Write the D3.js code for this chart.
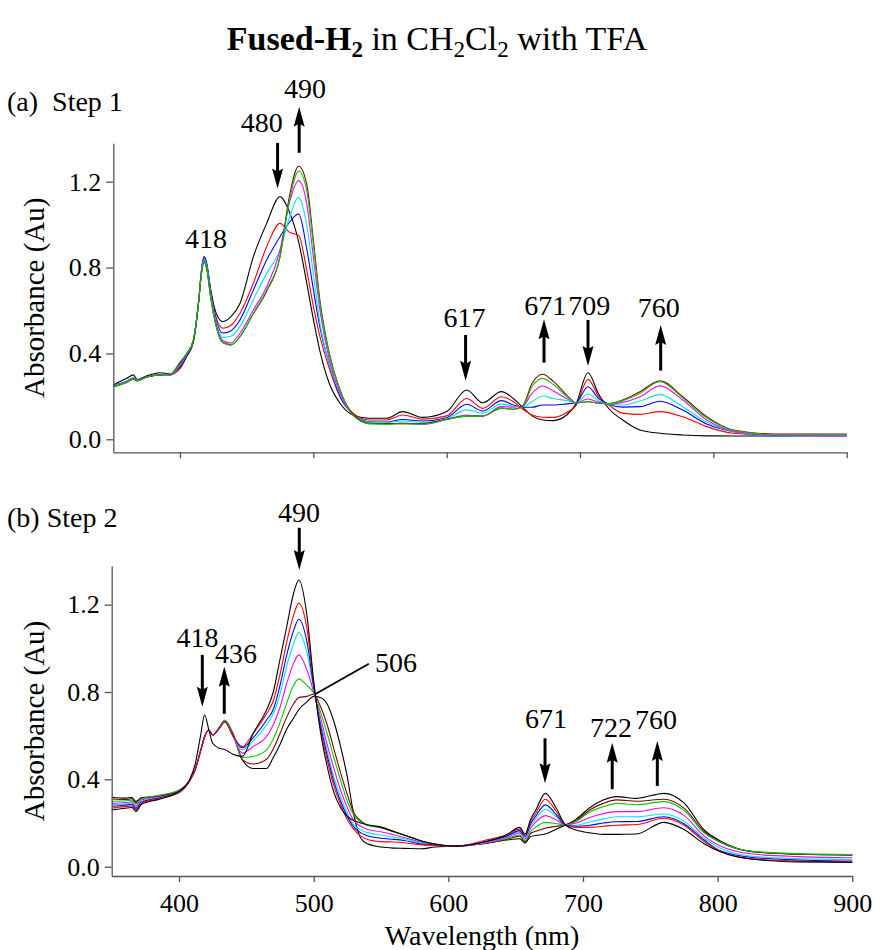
<!DOCTYPE html>
<html><head><meta charset="utf-8">
<script src="https://cdn.jsdelivr.net/npm/d3@7"></script>
<style>
body{margin:0;background:#fff;}
svg{display:block;}
text{font-family:"Liberation Serif","Times New Roman",serif;fill:#000;}
</style></head><body>
<svg id="chart" width="874" height="950"></svg>
<script>
// ---------- Step 1 spectra (wavelength grid, nm) ----------
const wlStep1 = [350,360,365,368,375, 385,393,400,405,410, 414,416,418,420,423, 427,432,438,445,455,
  465,475,482,489,495, 500,505,512,520,530, 542,555,567,582,600, 615,627,641,650,657,
  664,672,680,690,697, 706,714,722,732,745, 760,777,795,815,845, 900];
const s1Black = [0.253,0.284,0.300,0.278,0.295, 0.310,0.305,0.330,0.385,0.450, 0.640,0.780,0.850,0.820,0.700, 0.590,0.548,0.570,0.633,0.850,
  1.006,1.130,1.060,0.920,0.730, 0.560,0.410,0.260,0.168,0.112, 0.098,0.098,0.129,0.102,0.129, 0.230,0.170,0.222,0.190,0.149,
  0.109,0.090,0.087,0.113,0.165, 0.310,0.210,0.140,0.090,0.043, 0.028,0.020,0.016,0.015,0.016, 0.020];
const s1Red = [0.250,0.270,0.285,0.276,0.290, 0.300,0.300,0.335,0.390,0.455, 0.640,0.770,0.835,0.810,0.690, 0.570,0.517,0.530,0.587,0.727,
  0.897,1.006,0.965,0.950,0.790, 0.620,0.478,0.330,0.198,0.121, 0.090,0.090,0.113,0.094,0.109, 0.190,0.144,0.198,0.175,0.140,
  0.113,0.103,0.102,0.125,0.157, 0.279,0.200,0.158,0.122,0.116, 0.129,0.105,0.059,0.028,0.020, 0.020];
const s1Blue = [0.250,0.270,0.285,0.276,0.290, 0.300,0.300,0.340,0.390,0.460, 0.645,0.780,0.850,0.820,0.690, 0.560,0.495,0.505,0.556,0.695,
  0.835,0.944,1.010,1.050,0.890, 0.700,0.520,0.350,0.200,0.115, 0.082,0.080,0.092,0.085,0.100, 0.163,0.132,0.180,0.160,0.150,
  0.149,0.160,0.160,0.165,0.170, 0.245,0.190,0.162,0.150,0.152, 0.177,0.136,0.071,0.035,0.016, 0.015];
const s1Cyan = [0.248,0.270,0.283,0.275,0.290, 0.300,0.300,0.345,0.395,0.460, 0.645,0.775,0.840,0.810,0.680, 0.550,0.475,0.480,0.525,0.650,
  0.773,0.882,1.030,1.127,1.000, 0.770,0.540,0.350,0.210,0.115, 0.080,0.078,0.085,0.078,0.095, 0.137,0.122,0.164,0.155,0.152,
  0.175,0.202,0.190,0.180,0.170, 0.211,0.180,0.163,0.160,0.178, 0.208,0.152,0.080,0.035,0.016, 0.016];
const s1Magenta = [0.245,0.268,0.282,0.274,0.290, 0.300,0.302,0.350,0.398,0.460, 0.645,0.770,0.835,0.800,0.670, 0.540,0.460,0.448,0.494,0.602,
  0.711,0.880,1.100,1.205,1.100, 0.850,0.600,0.370,0.215,0.110, 0.075,0.072,0.074,0.070,0.092, 0.113,0.108,0.152,0.150,0.155,
  0.214,0.248,0.225,0.190,0.170, 0.188,0.172,0.165,0.172,0.198, 0.249,0.183,0.090,0.038,0.018, 0.015];
const s1Green = [0.245,0.265,0.280,0.272,0.290, 0.300,0.305,0.360,0.400,0.460, 0.640,0.765,0.830,0.800,0.665, 0.530,0.450,0.439,0.478,0.587,
  0.695,0.850,1.110,1.250,1.160, 0.910,0.630,0.395,0.230,0.110, 0.072,0.070,0.072,0.071,0.092, 0.108,0.108,0.145,0.140,0.152,
  0.245,0.284,0.255,0.200,0.170, 0.175,0.168,0.166,0.180,0.215, 0.268,0.193,0.100,0.042,0.022, 0.022];
const s1Brown = [0.245,0.265,0.280,0.272,0.290, 0.300,0.305,0.355,0.400,0.460, 0.640,0.765,0.825,0.795,0.660, 0.530,0.452,0.440,0.478,0.585,
  0.690,0.850,1.130,1.272,1.190, 0.930,0.645,0.400,0.230,0.115, 0.075,0.073,0.074,0.073,0.093, 0.108,0.108,0.145,0.140,0.155,
  0.260,0.303,0.270,0.206,0.170, 0.175,0.168,0.166,0.183,0.222, 0.273,0.198,0.105,0.043,0.025, 0.025];

// ---------- Step 2 spectra ----------
const wlStep2 = [350,360,365,368,372, 386,400,408,412,416, 419,422,425,430,434, 440,447,455,465,470,
  475,480,485,489,495, 500,505,510,515,520, 525,530,535,540,550, 560,567,580,590,606,
  628,643,653,657,661, 665,672,680,687,695, 705,715,725,740,760, 775,790,802,826,860, 900];
const s2BlackStart = [0.260,0.268,0.271,0.253,0.285, 0.310,0.345,0.400,0.470,0.600, 0.695,0.630,0.565,0.542,0.537, 0.515,0.505,0.610,0.718,0.800,
  0.950,1.100,1.250,1.313,1.150, 0.850,0.620,0.460,0.340,0.270, 0.230,0.210,0.200,0.192,0.180, 0.160,0.145,0.118,0.104,0.094,
  0.115,0.145,0.180,0.150,0.215, 0.260,0.336,0.270,0.191,0.168, 0.155,0.148,0.148,0.150,0.203, 0.170,0.105,0.068,0.034,0.022, 0.020];
const s2Red = [0.268,0.275,0.278,0.260,0.290, 0.313,0.342,0.395,0.445,0.530, 0.595,0.626,0.603,0.635,0.664, 0.600,0.550,0.610,0.700,0.760,
  0.880,1.030,1.150,1.207,1.090, 0.840,0.635,0.490,0.370,0.285, 0.215,0.170,0.140,0.125,0.115, 0.113,0.110,0.100,0.098,0.094,
  0.122,0.145,0.172,0.145,0.205, 0.245,0.309,0.255,0.191,0.180, 0.180,0.185,0.190,0.193,0.222, 0.190,0.115,0.070,0.036,0.026, 0.023];
const s2Blue = [0.276,0.282,0.285,0.267,0.295, 0.316,0.342,0.395,0.445,0.530, 0.595,0.626,0.603,0.635,0.664, 0.600,0.545,0.590,0.672,0.720,
  0.830,0.970,1.080,1.133,1.030, 0.825,0.650,0.510,0.390,0.300, 0.230,0.180,0.155,0.142,0.130, 0.125,0.120,0.104,0.100,0.094,
  0.115,0.140,0.165,0.138,0.195, 0.232,0.283,0.240,0.191,0.185, 0.190,0.200,0.206,0.207,0.229, 0.197,0.122,0.073,0.042,0.031, 0.026];
const s2Cyan = [0.283,0.288,0.291,0.273,0.300, 0.318,0.340,0.395,0.445,0.530, 0.595,0.626,0.603,0.635,0.664, 0.600,0.535,0.575,0.649,0.700,
  0.790,0.920,1.020,1.072,0.980, 0.815,0.665,0.530,0.410,0.320, 0.245,0.190,0.168,0.156,0.145, 0.135,0.128,0.108,0.100,0.094,
  0.112,0.137,0.160,0.133,0.185, 0.220,0.263,0.230,0.191,0.190, 0.205,0.218,0.229,0.228,0.241, 0.208,0.130,0.085,0.048,0.037, 0.033];
const s2Magenta = [0.290,0.294,0.297,0.279,0.305, 0.320,0.338,0.395,0.445,0.530, 0.595,0.626,0.603,0.635,0.664, 0.600,0.520,0.550,0.596,0.650,
  0.730,0.840,0.930,0.970,0.900, 0.800,0.685,0.560,0.450,0.350, 0.270,0.210,0.185,0.170,0.160, 0.145,0.134,0.112,0.102,0.094,
  0.110,0.133,0.155,0.128,0.175, 0.205,0.234,0.215,0.191,0.200, 0.225,0.243,0.252,0.252,0.270, 0.235,0.140,0.095,0.058,0.046, 0.041];
const s2Green = [0.300,0.302,0.305,0.287,0.310, 0.328,0.350,0.395,0.445,0.530, 0.595,0.626,0.603,0.638,0.670, 0.605,0.500,0.505,0.535,0.585,
  0.660,0.750,0.830,0.860,0.830, 0.795,0.710,0.610,0.500,0.395, 0.300,0.235,0.205,0.190,0.178, 0.158,0.145,0.118,0.104,0.094,
  0.110,0.128,0.145,0.120,0.160, 0.182,0.203,0.198,0.191,0.208, 0.250,0.275,0.290,0.284,0.298, 0.258,0.155,0.112,0.070,0.060, 0.056];
const s2Brown = [0.310,0.308,0.311,0.293,0.312, 0.325,0.350,0.395,0.445,0.530, 0.595,0.626,0.603,0.638,0.670, 0.610,0.490,0.470,0.492,0.540,
  0.610,0.685,0.745,0.775,0.780, 0.790,0.735,0.650,0.540,0.430, 0.330,0.245,0.210,0.190,0.182, 0.160,0.145,0.118,0.104,0.094,
  0.108,0.125,0.140,0.115,0.152, 0.162,0.176,0.185,0.191,0.212, 0.260,0.290,0.306,0.300,0.309, 0.268,0.160,0.112,0.069,0.058, 0.054];
const s2BlackEnd = [0.318,0.314,0.317,0.299,0.315, 0.322,0.348,0.395,0.445,0.530, 0.595,0.626,0.603,0.638,0.665, 0.610,0.490,0.450,0.450,0.500,
  0.560,0.630,0.680,0.720,0.755, 0.780,0.775,0.745,0.665,0.550, 0.410,0.230,0.130,0.105,0.090, 0.085,0.084,0.082,0.090,0.094,
  0.107,0.122,0.128,0.108,0.138, 0.143,0.150,0.172,0.191,0.218, 0.270,0.305,0.321,0.313,0.336, 0.292,0.168,0.118,0.069,0.057, 0.054];

// ---------- annotations ----------
const step1Labels = [
  {text:"418", at:419.5, y:0.891}, {text:"480", at:461.3, y:1.433}, {text:"490", at:493.7, y:1.588},
  {text:"617", at:613.4, y:0.522}, {text:"671", at:674.0, y:0.579}, {text:"709", at:707.0, y:0.579},
  {text:"760", at:759.0, y:0.568}];
const step1Arrows = [
  {at:473.2, from:1.381, to:1.169}, {at:489.4, from:1.335, to:1.549}, {at:614.2, from:0.486, to:0.273},
  {at:673.0, from:0.357, to:0.559}, {at:706.0, from:0.556, to:0.341}, {at:760.5, from:0.320, to:0.532}];
const step2Labels = [
  {text:"418", at:413.7, y:1.008}, {text:"436", at:442.3, y:0.932}, {text:"490", at:489.1, y:1.580},
  {text:"671", at:672.5, y:0.634}, {text:"722", at:720.8, y:0.596}, {text:"760", at:754.2, y:0.629}];
const step2Arrows = [
  {at:417.3, from:0.970, to:0.733}, {at:433.6, from:0.700, to:0.916}, {at:489.3, from:1.552, to:1.359},
  {at:671.8, from:0.588, to:0.382}, {at:721.7, from:0.355, to:0.568}, {at:755.2, from:0.370, to:0.576}];
const step2Leader = {text:"506", point:[501, 0.79], elbow:[541, 0.929], textAt:[545.5, 0.892]};

const xTicks = [400, 500, 600, 700, 800, 900];
const yTicks = [0.0, 0.4, 0.8, 1.2];

const palette = {black:"#000000", red:"#ff0000", blue:"#0000ff", cyan:"#00e5ee",
  magenta:"#ff00ff", green:"#00cc00", brown:"#800000"};

const step1Series = [
  {c:palette.black, v:s1Black}, {c:palette.red, v:s1Red}, {c:palette.blue, v:s1Blue},
  {c:palette.cyan, v:s1Cyan}, {c:palette.magenta, v:s1Magenta}, {c:palette.brown, v:s1Brown},
  {c:palette.green, v:s1Green}];
const step2Series = [
  {c:palette.black, v:s2BlackEnd}, {c:palette.brown, v:s2Brown}, {c:palette.green, v:s2Green},
  {c:palette.magenta, v:s2Magenta}, {c:palette.cyan, v:s2Cyan}, {c:palette.blue, v:s2Blue},
  {c:palette.red, v:s2Red}, {c:palette.black, v:s2BlackStart}];

const svg = d3.select("#chart");

// title
const title = svg.append("text").attr("x", 437).attr("y", 50)
  .attr("text-anchor", "middle").style("font-size", "34px");
title.append("tspan").style("font-weight", "bold").text("Fused-H");
title.append("tspan").style("font-weight", "bold").style("font-size", "23px").attr("dy", 7).text("2");
title.append("tspan").attr("dy", -7).text(" in CH");
title.append("tspan").style("font-size", "23px").attr("dy", 7).text("2");
title.append("tspan").attr("dy", -7).text("Cl");
title.append("tspan").style("font-size", "23px").attr("dy", 7).text("2");
title.append("tspan").attr("dy", -7).text(" with TFA");

function drawArrow(g, x, y0, y1) {
  const dir = y1 > y0 ? 1 : -1;       // +1 pointing down
  const headLen = 20, halfW = 5.5, notch = 3;
  const baseY = y1 - dir * headLen;
  g.append("line").attr("x1", x).attr("x2", x)
    .attr("y1", y0).attr("y2", baseY + dir * notch + dir * 1)
    .attr("stroke", "#000").attr("stroke-width", 3);
  g.append("path")
    .attr("d", `M${x},${y1} L${x - halfW},${baseY} L${x},${baseY + dir * notch} L${x + halfW},${baseY} Z`)
    .attr("fill", "#000");
}

function panel(opt) {
  const x = d3.scaleLinear().domain([350, 900]).range(opt.xRange);
  const y = d3.scaleLinear().domain(opt.yDomain).range(opt.yRange);
  const g = svg.append("g");

  const line = d3.line().curve(d3.curveMonotoneX)
    .x((d, i) => x(opt.wl[i])).y(d => y(d));
  g.append("g").selectAll("path").data(opt.series).join("path")
    .attr("d", s => line(s.v)).attr("fill", "none")
    .attr("stroke", s => s.c).attr("stroke-width", 1.1);

  const yAxis = g.append("g").attr("transform", `translate(${opt.xRange[0]},0)`)
    .call(d3.axisLeft(y).tickValues(yTicks).tickFormat(d3.format(".1f"))
      .tickSize(7).tickSizeOuter(0).tickPadding(5));
  const xAxis = g.append("g").attr("transform", `translate(0,${opt.yRange[0]})`)
    .call(d3.axisBottom(x).tickValues(xTicks)
      .tickFormat(opt.xLabels ? d3.format("d") : () => "")
      .tickSize(6).tickSizeOuter(0).tickPadding(12));
  [yAxis, xAxis].forEach(a => {
    a.selectAll(".domain").attr("stroke", "#555").attr("stroke-width", 1.3);
    a.selectAll(".tick line").attr("stroke", "#555").attr("stroke-width", 1.3);
    a.selectAll(".tick text").style("font-size", "26px").style("font-family", '"Liberation Serif",serif').attr("fill", "#000");
  });

  g.append("text")
    .attr("transform", `translate(44,${(opt.yRange[0] + opt.yRange[1]) / 2}) rotate(-90)`)
    .attr("text-anchor", "middle").style("font-size", "29px").text("Absorbance (Au)");

  g.append("text").attr("x", 7).attr("y", opt.tagY).style("font-size", "28px")
    .attr("xml:space", "preserve").text(opt.tag);

  const ann = g.append("g");
  opt.labels.forEach(l => {
    ann.append("text").attr("x", x(l.at)).attr("y", y(l.y))
      .attr("text-anchor", "middle").style("font-size", "28px").text(l.text);
  });
  opt.arrows.forEach(a => drawArrow(ann, x(a.at), y(a.from), y(a.to)));
  if (opt.leader) {
    const L = opt.leader;
    ann.append("line").attr("x1", x(L.point[0])).attr("y1", y(L.point[1]))
      .attr("x2", x(L.elbow[0])).attr("y2", y(L.elbow[1]))
      .attr("stroke", "#000").attr("stroke-width", 1.8);
    ann.append("text").attr("x", x(L.textAt[0])).attr("y", y(L.textAt[1]))
      .style("font-size", "28px").text(L.text);
  }
  return {x, y};
}

panel({
  wl: wlStep1, series: step1Series, xRange: [113.3, 846.7],
  yDomain: [-0.0606, 1.379], yRange: [452.3, 143.3], xLabels: false,
  tag: "(a)  Step 1", tagY: 111, labels: step1Labels, arrows: step1Arrows
});
panel({
  wl: wlStep2, series: step2Series, xRange: [111.7, 852.3],
  yDomain: [-0.0426, 1.377], yRange: [876, 566], xLabels: true,
  tag: "(b) Step 2", tagY: 527, labels: step2Labels, arrows: step2Arrows, leader: step2Leader
});

svg.append("text").attr("x", 482).attr("y", 945).attr("text-anchor", "middle")
  .style("font-size", "28px").text("Wavelength (nm)");
</script>
</body></html>
